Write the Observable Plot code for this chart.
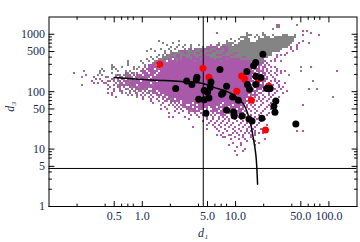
<!DOCTYPE html>
<html><head><meta charset="utf-8">
<style>html,body{margin:0;padding:0;background:#fff}svg{display:block}</style>
<script src="https://cdn.jsdelivr.net/npm/d3@7"></script>
<script src="https://cdn.jsdelivr.net/npm/@observablehq/plot@0.6"></script>
</head><body><div id="c"></div>
<script>
const xLabelTicks=[0.5,1,5,10,50,100];
const yLabelTicks=[1,5,10,50,100,500,1000];
const xMinor=[0.2,0.4,0.6,0.7,0.8,2,4,6,7,8,20,40,60,70,80];
const yMinor=[2,3,4,7,8,9,20,30,40,60,70,80,90,200,300,400,600,700,800,900];
const d1Cut=4.5, d3Cut=4.6;
const curveD1=[0.498,1.24,2.6,4.47,5.86,8.9,12,13.9,15.3,16.5,17.2];
const curveD3=[177,160,151,139,119,93.4,62.6,35.7,17.4,7.8,2.44];
const blackD1=[19.6,16.4,15.6,13.2,6.79,2.99,3.4,3.85,3.79,5.44,5.35,8.01,4.61,5.01,14.1,13.4,16.5,16.5,18.7,22.3,21.5,23.5,7.08,7.31,9.29,10.7,4.02,4.61,5.18,27,25.7,26.4,8.01,9.52,9.66,11.7,4.81,15,13.9,19.1,44.2,2.28];
const blackD3=[451,323,283,225,244,153,134,179,162,147,120,124,105,98,110,134,134,185,177,114,114,114,90,95,80.5,70.6,73.5,72.6,77.4,68.6,55.5,43.7,47.3,44.2,37.6,37.6,42,31,33.6,34.4,27.3,114];
const redD1=[1.54,4.47,5.18,11.6,12.5,17.5,22.6,10.3,14.8,20.9];
const redD3=[298,257,179,187,166,166,125,102,70.6,21.5];
// occupancy of the 2-D histogram: "row: columns"
const purpleRows=[
"24: 103","26: 104","30: 116 118","32: 73 120","34: 116 124","38: 110","40: 116","42: 114 119",
"44: 74 76 82 113","46: 68-72 75-79 83 85 110 113","48: 60 62-70 72-80 84-86 110 113","50: 55-58 60-84 87 111",
"52: 51-54 56-88 108","54: 48-50 52-92 103 105 107","56: 46-94 103","58: 45-50 52-94 96 102","60: 43-47 49-90 92-95 97 100 102 105",
"62: 41-44 46-92 94-96 98","64: 39-42 44-90 92-95 97 99","66: 37 39-44 46-92 94 96-97 100 102 120","68: 36 38-41 43-90 92-94 96 98 103","70: 35-37 39-43 45-91 93-96 98 100 103 105 107 133",
"72: 1 27 30 33 36-38 40-42 44-92 94 96-97 99 102 105","74: 7 15 23 27 29 31 33-35 37-41 43-90 92-95 97 100 103","76: 5 11 17 22 24 27-29 32-39 41-92 94-96 98 101",
"78: 12 20 23 25 28-30 33 35-38 40-90 92-94 97-98 102","80: 10 15 18 21 24 26-28 30-34 36-42 44-91 93 95-97 100 102 104","82: 11 13 17 22 25 27 29-31 33-39 41-89 91-94 96 99 103 107",
"84: 5 18 21 24-26 28-32 34-40 42-92 94-96 98 101 104","86: 19 23 26 29 31-33 35-38 40-90 92 94-97 100 104 106","88: 18 21 24 27 30 33-36 38 41-91 93-95 98 102 105 119",
"90: 21 25 29 32 34 37 39-42 44-89 91-93 96 100 103 108","92: 18 20 25 29 32 36 39 41-43 45-90 92 94-95 99 102 106","94: 20 30 33 35 40 43-45 47-88 90-93 96 99 101",
"96: 22 36 41 44 46-47 49-90 92 94 97 100 104","98: 36 40 43 46 48-51 53-87 89-91 94 96 99 103","100: 40 44 47 50-54 56-88 90 93 95 98 101",
"102: 41 46 50 52 54 56-60 62-75 77-87 89 91 96 100","104: 49 53 55-57 60-62 64-74 76-80 82-86 88 90 92 95 99 116","106: 47 52 54 57-60 62-68 70-72 74-78 80-84 86 88 91 94 98",
"108: 45 48 53 55 58-62 64-66 68 71-74 76-82 84-86 89 92 97 100","110: 52 56 59 61-64 67 70-73 75-78 80 82-85 87 90 93 96",
"112: 49 54 59 62 65 68 71 73-76 79 82-86 88 92 95 99","114: 60 63 66 70 72 75-77 80 83 85-87 90 94 98",
"116: 49 51 57 64 68 71 74 76 78 81 84 87 89 92 96","118: 59 68 71 74 77 79 82 85 88-90 93 97","120: 66 70 73 76 79 83 86 90 95",
"122: 69 72 75 78 81 85 88 91 94","124: 68 71 74 77 80 84 87 90 93 98","126: 61 72 75 79 82 86 89 92","128: 68 73 77 81 84 88 91 95",
"130: 74 78 82 85 88 90 92 113 116","132: 76 81 83 87 89 92 94 96","134: 73 75 79 84 86 90 92","136: 76 77 82 86 90","138: 80 84 87 91 97",
"140: 88 92","142: 81 85 94","144: 79 85 92","146: 83","148: 87","150: 82 86","154: 83"];
const grayRows=[
"24: 104 113","26: 103","28: 101","32: 88 96","34: 88-90 93 96-97 101 106-108 112","36: 85-88 92 94 97-99 102-112",
"38: 80 84 87-89 94-111","40: 44 54 78 82 85-89 93-111","42: 46 51 74 78-81 84-110","44: 48 54 57 60 64 70 73 76-80 83-109",
"46: 50 53 56 60 66 68 73 75 79-108","48: 40 45 49 52 57 59 63-65 70-72 76 79-105","50: 38 42 47 50 54 58-60 62-64 67-70 73-76 79-104",
"52: 47 50 52-56 59-62 65-67 71-75 78-81 84-100","54: 44 46 49-52 55-59 62-65 68-72 76-79 82-100","56: 40 43 46-49 52 55 58-60 63 66 70-75 80-85 88-98",
"58: 38 41 44-46 48 50 53 55 60 65 72 78 85-95","60: 28 35 39 42 47 53 62 75 90-96","62: 28 36 41","64: 20 28 37","66: 20 21 25 31 34 115",
"68: 15 20 22 31 33","70: 6 14 16 23 27 29 115","72: 14 20 28 31","74: 13 15 22 24 26 28 109","76: 5 18 25 30","78: 14 21 26 31","80: 19 23 29 121",
"82: 16 24 28 32","84: 5 23 27 41","86: 24 30 34 39","88: 28 32 37 123","90: 24 31 35 40","92: 27 33 38","94: 28 37","96: 33 39 131","98: 50","100: 48",
"104: 45 51","106: 56","110: 60","134: 80"];
const expand=(rows)=>rows.flatMap(r=>{const [k,t]=r.split(": ");return t.split(" ").flatMap(s=>{const [a,b]=s.split("-").map(Number);return d3.range(a,(b??a)+1).map(c=>({c,k:+k}));});});
const rectOpts=(fill)=>({x1:d=>10**(-0.7634+0.02141*d.c),x2:d=>10**(-0.7634+0.02141*(d.c+1)),y1:d=>10**(3.588-0.01739*d.k),y2:d=>10**(3.588-0.01739*(d.k+2)),fill,shapeRendering:"crispEdges"});
const pairs=(a,b)=>a.map((x,i)=>[x,b[i]]);
const tick={draw(c,l){c.moveTo(0,0);c.lineTo(0,-l);}};
const font="Liberation Serif", ink="#1b2a52";
const tickMarks=(vals,len)=>[
 Plot.vector(vals,{x:d=>d,y:()=>1,length:len,rotate:0,anchor:"start",shape:tick,stroke:"#000",strokeWidth:1}),
 Plot.vector(vals,{x:d=>d,y:()=>2000,length:len,rotate:180,anchor:"start",shape:tick,stroke:"#000",strokeWidth:1})];
const tickMarksY=(vals,len)=>[
 Plot.vector(vals,{x:()=>0.1,y:d=>d,length:len,rotate:90,anchor:"start",shape:tick,stroke:"#000",strokeWidth:1}),
 Plot.vector(vals,{x:()=>200,y:d=>d,length:len,rotate:-90,anchor:"start",shape:tick,stroke:"#000",strokeWidth:1})];
const chart=Plot.plot({
 width:360,height:242,marginLeft:48.5,marginRight:3.5,marginTop:16.5,marginBottom:36,
 style:{background:"#fff",fontFamily:font},
 x:{type:"log",domain:[0.1,200],axis:null},
 y:{type:"log",domain:[1,2000],axis:null},
 marks:[
  Plot.rect(expand(purpleRows),rectOpts("#aa58aa")),
  Plot.rect(expand(grayRows),rectOpts("#848484")),
  Plot.ruleX([d1Cut],{stroke:"#000",strokeWidth:1}),
  Plot.ruleY([d3Cut],{stroke:"#000",strokeWidth:1}),
  Plot.line(pairs(curveD1,curveD3),{x:"0",y:"1",curve:"catmull-rom",stroke:"#000",strokeWidth:1.5}),
  Plot.dot(pairs(redD1,redD3),{x:"0",y:"1",r:3.5,fill:"#f00"}),
  Plot.dot(pairs(blackD1,blackD3),{x:"0",y:"1",r:3.5,fill:"#000"}),
  Plot.frame({stroke:"#000",strokeWidth:1}),
  ...tickMarks(xLabelTicks,5),...tickMarks(xMinor,2.5),
  ...tickMarksY(yLabelTicks,5),...tickMarksY(yMinor,2.5),
  Plot.text(xLabelTicks,{x:d=>d,y:()=>1,text:d=>d.toFixed(1),dy:10,fontSize:12,fill:ink}),
  Plot.text(yLabelTicks,{x:()=>0.1,y:d=>d,text:d=>String(d),dx:-4,textAnchor:"end",fontSize:12,fill:ink}),
  Plot.text(["d₁"],{frameAnchor:"bottom",dy:30,fontStyle:"italic",fontSize:12,fill:ink}),
  Plot.text(["d₃"],{frameAnchor:"left",dx:-39,rotate:-90,fontStyle:"italic",fontSize:12,fill:ink})
 ]});
document.getElementById("c").append(chart);
</script></body></html>
